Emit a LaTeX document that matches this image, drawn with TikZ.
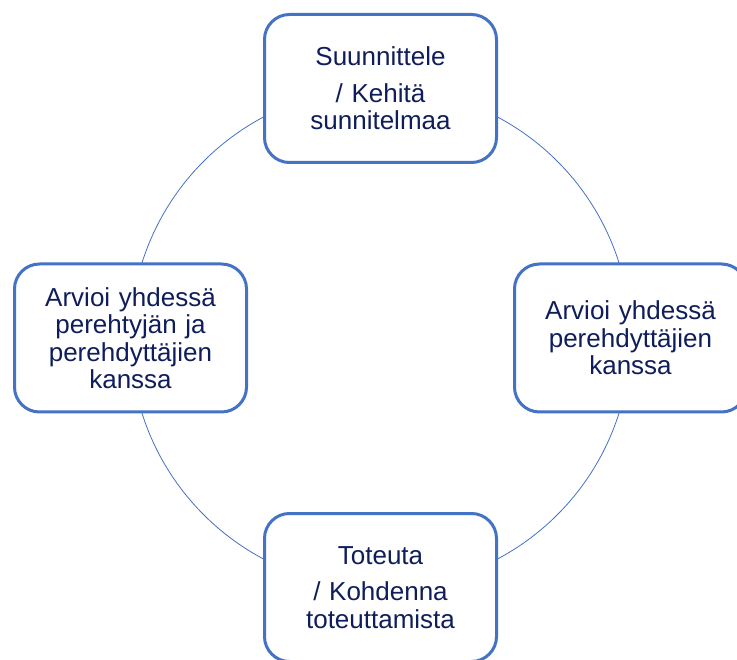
\documentclass[tikz,border=0pt]{standalone}
\usepackage{fontspec}
\setmainfont{Liberation Sans}
\usepackage{xcolor}
\definecolor{CycleBlue}{HTML}{4472C4}
\definecolor{NavyText}{HTML}{0F1D5A}
\usepackage{tikz}
\tikzset{
  cyclebox/.style={
    draw=CycleBlue,
    fill=white,
    rounded corners=25pt,
    line width=3pt,
    minimum width=232pt,
    minimum height=148pt,
    text width=220pt,
    align=center,
    text=NavyText,
    font=\fontsize{26}{27.5}\selectfont,
    inner sep=0pt
  },
  cycleline/.style={
    draw=CycleBlue,
    line width=0.8pt
  }
}
\begin{document}
\begin{tikzpicture}[x=1pt,y=1pt]
  \useasboundingbox (0,0) rectangle (737,-660);
  \coordinate (hub) at (380.5,-338);
  \draw[cycleline] (hub) circle (250);
  \node[cyclebox] (plan) at (380.5,-88.5) {Suunnittele\\[9pt]/ Kehitä\\sunnitelmaa};
  \node[cyclebox] (mentors) at (630.5,-338) {Arvioi yhdessä\\perehdyttäjien\\kanssa};
  \node[cyclebox] (act) at (380.5,-587.5) {Toteuta\\[9pt]/ Kohdenna\\toteuttamista};
  \node[cyclebox] (together) at (130.5,-338) {Arvioi yhdessä\\perehtyjän ja\\perehdyttäjien\\kanssa};
\end{tikzpicture}
\end{document}
